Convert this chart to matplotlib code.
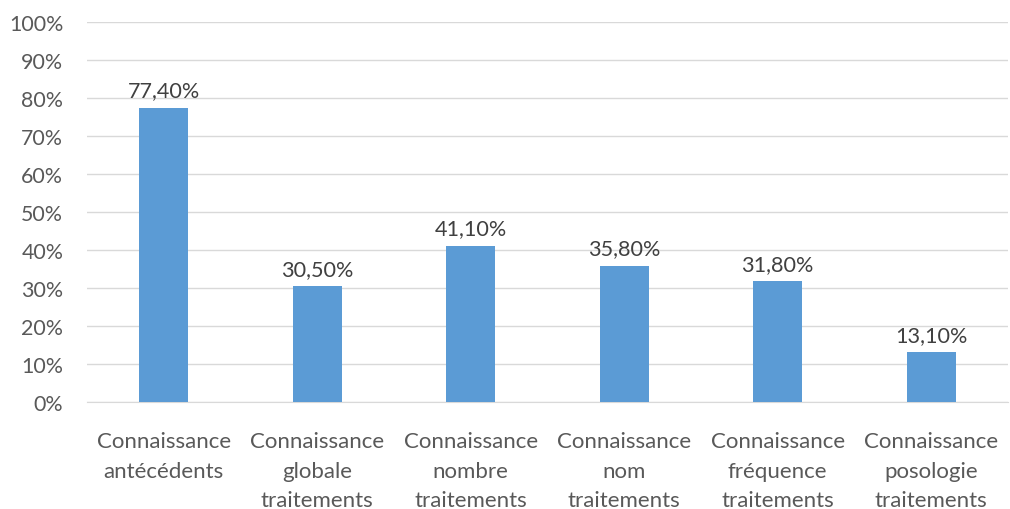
import matplotlib
matplotlib.use('Agg')
import matplotlib.pyplot as plt
from matplotlib.ticker import FuncFormatter

plt.rcParams['font.family'] = ['Lato', 'DejaVu Sans']

categories = ['Connaissance\nantécédents', 'Connaissance\nglobale\ntraitements',
              'Connaissance\nnombre\ntraitements', 'Connaissance\nnom\ntraitements',
              'Connaissance\nfréquence\ntraitements', 'Connaissance\nposologie\ntraitements']
values = [77.4, 30.5, 41.1, 35.8, 31.8, 13.1]
value_labels = ['77,40%', '30,50%', '41,10%', '35,80%', '31,80%', '13,10%']

fig = plt.figure(figsize=(10.1, 5.1), dpi=100)
ax = fig.add_axes([0.086, 0.21, 0.912, 0.745])

x = range(len(values))
bars = ax.bar(x, values, width=0.32, color='#5B9BD5', zorder=3)
for i, v in enumerate(values):
    ax.text(i, v + 3.0, value_labels[i], ha='center', va='baseline',
            fontsize=15.6, color='#404040')

ax.set_ylim(0, 100)
ax.set_xlim(-0.5, len(values) - 0.5)
ax.set_yticks(range(0, 101, 10))
ax.yaxis.set_major_formatter(FuncFormatter(lambda v, p: '%d%%' % v))
ax.grid(axis='y', color='#D9D9D9', linewidth=1, zorder=0)
ax.set_xticks(list(x))
ax.set_xticklabels(categories, fontsize=16, color='#595959', linespacing=1.6)
ax.tick_params(axis='y', labelsize=15.4, labelcolor='#595959', length=0, pad=17)
ax.tick_params(axis='x', length=0, pad=21)
for s in ['top', 'right', 'left']:
    ax.spines[s].set_visible(False)
ax.spines['bottom'].set_color('#D9D9D9')

fig.savefig('out.png', dpi=100)
